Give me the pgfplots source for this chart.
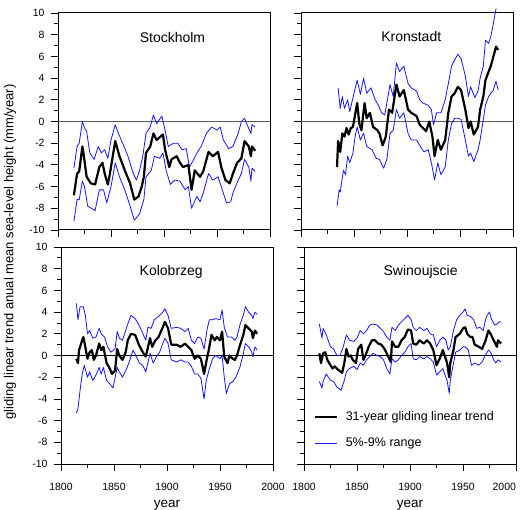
\documentclass[border=0pt]{standalone}
\usepackage{pgfplots}
\pgfplotsset{compat=1.18}
\usepackage{fontspec}
\setmainfont{Liberation Sans}
\definecolor{rblue}{RGB}{20,20,255}
\definecolor{zgray}{RGB}{90,90,90}
\pgfplotsset{panel/.style={
  scale only axis, width=212pt, height=217pt,
  xmin=1800, xmax=2000, ymin=-10, ymax=10,
  xtick={1800,1850,...,2000}, ytick={-10,-8,...,10},
  minor x tick num=1, minor y tick num=1,
  tick align=outside, tick pos=left,
  major tick length=7pt, minor tick length=4pt,
  axis line style={line width=1pt},
  every tick/.style={black, line width=0.8pt},
  tick label style={font=\fontsize{10.5}{12}\selectfont},
  xticklabel style={yshift=-9pt},
  yticklabel style={xshift=-3pt},
  /pgf/number format/assume math mode=true,
  /pgf/number format/1000 sep={},
  xlabel style={font=\fontsize{13.5}{15}\selectfont, yshift=-2pt},
},
trend/.style={black, line width=2.2pt, line join=round},
rng/.style={rblue, line width=0.8pt, line join=round},
}
\begin{document}
\begin{tikzpicture}
\path[use as bounding box] (0pt,0pt) rectangle (524pt,-510pt);
% ---------------- Stockholm
\begin{axis}[panel, at={(58pt,-230pt)}, anchor=south west, xticklabels={}]
\addplot[zgray, line width=1pt, forget plot] coordinates {(1800,0) (2000,0)};
\addplot[rng] coordinates {(1815,-4.3) (1818,-2.3) (1820,-2.0) (1823,0.0) (1825,-0.6) (1827,-0.9) (1830,-2.9) (1834,-3.5) (1838,-2.3) (1841,-2.9) (1844,-2.6) (1847,-3.4) (1850,-1.7) (1854,-0.3) (1857,-1.1) (1861,-2.0) (1866,-3.2) (1871,-4.8) (1874,-5.4) (1877,-4.5) (1880,-3.2) (1883,-1.1) (1887,-0.5) (1890,0.6) (1893,-0.2) (1898,0.5) (1901,-0.8) (1904,-2.3) (1909,-2.0) (1913,-2.0) (1917,-2.6) (1921,-2.5) (1924,-4.2) (1928,-3.5) (1931,-2.9) (1935,-2.3) (1940,-1.1) (1945,-0.5) (1950,-0.8) (1953,-0.5) (1956,-1.7) (1961,-2.5) (1965,-2.3) (1970,-1.1) (1973,0.0) (1976,0.3) (1978,-0.2) (1982,-1.1) (1983,-0.3) (1986,-0.5)};
\addplot[rng] coordinates {(1815,-9.2) (1818,-7.2) (1820,-7.2) (1823,-5.5) (1825,-6.0) (1828,-7.8) (1835,-8.2) (1839,-6.3) (1843,-6.3) (1846,-7.5) (1850,-6.0) (1854,-3.8) (1858,-5.1) (1863,-6.3) (1868,-7.8) (1872,-9.1) (1877,-8.5) (1881,-7.2) (1883,-5.1) (1888,-4.5) (1891,-3.2) (1896,-3.4) (1899,-2.9) (1902,-4.5) (1906,-5.8) (1910,-5.4) (1915,-5.5) (1920,-6.3) (1923,-6.0) (1926,-8.0) (1931,-6.9) (1934,-7.4) (1937,-6.6) (1942,-4.8) (1946,-5.4) (1951,-5.1) (1956,-6.6) (1959,-7.5) (1963,-7.4) (1965,-6.6) (1970,-5.4) (1973,-4.8) (1976,-3.5) (1980,-4.2) (1982,-5.5) (1983,-4.3) (1986,-4.6)};
\addplot[trend] coordinates {(1815,-6.8) (1818,-4.8) (1820,-4.6) (1823,-2.3) (1824,-2.9) (1827,-5.1) (1831,-5.7) (1835,-5.8) (1839,-4.2) (1842,-3.8) (1844,-4.8) (1847,-5.8) (1849,-4.8) (1854,-1.8) (1858,-3.2) (1863,-4.5) (1868,-5.7) (1872,-7.2) (1876,-6.9) (1879,-6.0) (1881,-5.1) (1883,-2.9) (1887,-2.3) (1890,-1.1) (1893,-1.7) (1899,-1.2) (1901,-2.6) (1905,-4.2) (1907,-3.5) (1912,-3.2) (1915,-3.8) (1918,-4.2) (1923,-4.0) (1926,-6.3) (1929,-4.5) (1934,-5.1) (1937,-4.6) (1942,-2.8) (1946,-3.2) (1951,-2.8) (1954,-4.2) (1958,-5.4) (1962,-5.7) (1965,-4.8) (1969,-3.8) (1973,-3.4) (1976,-1.8) (1980,-2.3) (1982,-3.2) (1983,-2.3) (1986,-2.7)};
\node[font=\fontsize{14}{16}\selectfont] at (rel axis cs:0.54,0.885) {Stockholm};
\end{axis}
% ---------------- Kronstadt
\begin{axis}[panel, at={(301pt,-230pt)}, anchor=south west, xticklabels={}, yticklabels={}, clip=false]
\addplot[zgray, line width=1pt, forget plot] coordinates {(1800,0) (2000,0)};
\addplot[rng] coordinates {(1835,3.1) (1837,1.2) (1839,2.3) (1841,1.2) (1844,2.0) (1846,0.9) (1849,2.2) (1853,3.8) (1856,2.5) (1859,4.0) (1862,2.6) (1866,3.1) (1870,2.0) (1873,1.5) (1876,0.8) (1879,0.6) (1884,3.4) (1887,2.3) (1890,5.4) (1893,4.6) (1897,5.1) (1901,3.5) (1904,3.1) (1909,2.8) (1912,2.0) (1915,1.7) (1920,1.5) (1923,1.1) (1925,-0.3) (1928,0.8) (1932,0.8) (1936,2.0) (1939,3.5) (1942,5.1) (1945,5.7) (1948,6.2) (1951,5.8) (1955,4.2) (1958,2.3) (1960,3.2) (1964,2.2) (1967,2.8) (1969,4.0) (1972,5.1) (1974,7.5) (1977,7.2) (1979,7.8) (1981,8.8) (1984,10.4)};
\addplot[rng] coordinates {(1834,-7.8) (1836,-6.3) (1837,-6.5) (1840,-4.5) (1842,-4.9) (1844,-3.2) (1846,-3.8) (1849,-2.9) (1851,-1.4) (1853,-0.5) (1856,-1.7) (1859,-1.1) (1862,-2.3) (1867,-2.6) (1871,-3.4) (1874,-3.5) (1878,-4.3) (1881,-3.5) (1884,-1.1) (1887,-0.8) (1890,1.1) (1893,0.3) (1897,0.8) (1901,-1.1) (1904,-1.7) (1909,-1.7) (1912,-2.2) (1916,-2.8) (1920,-2.6) (1923,-3.8) (1926,-5.4) (1929,-3.8) (1932,-4.9) (1936,-4.2) (1939,-1.7) (1942,-0.2) (1945,0.3) (1948,0.3) (1951,0.2) (1955,-1.7) (1958,-3.2) (1960,-2.9) (1963,-3.7) (1967,-2.6) (1969,-1.7) (1972,0.2) (1974,1.5) (1977,2.3) (1979,2.6) (1981,2.8) (1984,3.7) (1986,2.9)};
\addplot[trend] coordinates {(1834,-4.2) (1835,-1.8) (1837,-2.8) (1839,-1.1) (1841,-1.4) (1843,-0.6) (1845,-1.2) (1847,-0.6) (1849,-0.5) (1853,1.7) (1855,-0.2) (1857,-0.8) (1860,1.7) (1862,0.3) (1865,0.8) (1868,-0.5) (1872,-0.8) (1874,-1.1) (1877,-2.2) (1880,-1.4) (1883,1.1) (1886,0.8) (1890,3.4) (1893,2.3) (1897,2.9) (1901,1.1) (1904,0.8) (1909,0.5) (1912,-0.3) (1915,-0.6) (1918,-0.9) (1921,0.0) (1924,-1.4) (1926,-3.2) (1929,-1.7) (1932,-2.6) (1936,-1.7) (1939,0.8) (1942,2.3) (1945,2.6) (1948,3.2) (1951,2.9) (1955,1.1) (1958,-0.6) (1960,0.0) (1963,-1.2) (1967,-0.5) (1969,1.1) (1972,2.3) (1974,3.8) (1977,4.6) (1979,5.1) (1981,5.8) (1984,6.9) (1986,6.6)};
\node[font=\fontsize{14}{16}\selectfont] at (rel axis cs:0.52,0.89) {Kronstadt};
\end{axis}
% ---------------- Kolobrzeg
\begin{axis}[panel, at={(61pt,-464pt)}, anchor=south west, xlabel={year}]
\addplot[black, line width=1pt, forget plot] coordinates {(1800,0) (2000,0)};
\addplot[rng] coordinates {(1814.5,4.8) (1816,3.3) (1818,4.5) (1821,4.5) (1823,3.7) (1825,2.0) (1827,2.3) (1830,1.6) (1833,1.7) (1836,2.5) (1838,2.0) (1841,1.7) (1844,0.8) (1847,0.3) (1851,0.6) (1853,2.2) (1855,1.6) (1858,1.4) (1861,2.3) (1863,2.9) (1866,3.7) (1870,3.4) (1873,2.9) (1876,2.3) (1880,1.4) (1882,2.6) (1885,2.5) (1888,3.3) (1892,3.6) (1896,4.0) (1898,4.3) (1901,3.7) (1904,2.5) (1909,2.6) (1913,2.5) (1917,2.2) (1920,2.5) (1923,1.4) (1926,1.1) (1929,1.7) (1932,1.6) (1935,0.6) (1938,2.5) (1940,3.3) (1943,3.3) (1946,3.4) (1950,3.3) (1952,4.2) (1954,2.6) (1957,1.7) (1961,1.7) (1964,1.4) (1966,1.7) (1969,2.9) (1972,3.7) (1974,4.5) (1977,4.0) (1980,3.7) (1981,3.4) (1983,4.0) (1985,3.8)};
\addplot[rng] coordinates {(1814.5,-5.3) (1816,-4.9) (1818,-3.2) (1820,-1.7) (1822,-0.9) (1825,-2.0) (1827,-1.5) (1830,-2.3) (1833,-1.8) (1836,-1.1) (1838,-1.7) (1840,-1.1) (1843,-2.3) (1846,-2.6) (1849,-3.0) (1853,-1.1) (1855,-1.5) (1858,-2.0) (1862,-1.2) (1865,-0.4) (1868,0.5) (1871,-0.1) (1874,-0.7) (1877,-0.9) (1880,-1.5) (1884,0.2) (1887,-0.7) (1890,-0.1) (1893,0.3) (1898,1.6) (1901,1.1) (1904,-0.4) (1909,-0.6) (1913,-0.4) (1917,-0.6) (1920,-0.6) (1923,-1.0) (1926,-1.7) (1929,-1.7) (1932,-2.1) (1935,-4.0) (1937,-2.3) (1940,-1.2) (1943,-0.3) (1946,0.0) (1950,-0.3) (1952,0.0) (1954,-2.0) (1956,-3.5) (1959,-2.6) (1962,-2.4) (1965,-2.0) (1969,-1.0) (1972,0.2) (1974,1.1) (1977,0.8) (1980,0.3) (1981,-0.1) (1983,0.8) (1985,0.5)};
\addplot[trend] coordinates {(1814.5,-0.3) (1816,-0.7) (1817,0.5) (1821,1.7) (1822,1.3) (1825,-0.3) (1827,0.3) (1829,0.5) (1831,-0.4) (1833,0.0) (1836,1.1) (1838,0.5) (1840,0.8) (1843,-0.7) (1846,-1.2) (1848,-1.7) (1851,-1.4) (1853,0.6) (1855,0.0) (1858,-0.4) (1861,0.3) (1863,1.4) (1866,2.0) (1870,1.9) (1873,1.1) (1876,0.5) (1879,0.0) (1880,-0.1) (1884,1.6) (1886,0.8) (1889,1.4) (1892,1.7) (1896,2.6) (1898,3.1) (1901,2.5) (1904,1.0) (1909,1.0) (1913,0.8) (1917,1.1) (1920,0.8) (1923,0.5) (1926,-0.3) (1929,0.0) (1932,-0.3) (1935,-1.7) (1937,-0.6) (1939,0.3) (1942,1.9) (1945,1.4) (1947,1.7) (1950,1.4) (1952,2.2) (1954,-0.1) (1957,-0.7) (1959,0.0) (1962,-0.3) (1964,-0.4) (1966,0.0) (1969,1.0) (1972,1.9) (1974,2.8) (1977,2.5) (1980,2.2) (1981,1.6) (1983,2.3) (1985,2.0)};
\node[font=\fontsize{14}{16}\selectfont] at (rel axis cs:0.52,0.885) {Kolobrzeg};
\end{axis}
% ---------------- Swinoujscie
\begin{axis}[panel, at={(304pt,-464pt)}, anchor=south west, yticklabels={}, xlabel={year},
  xticklabels={1800,1850,1900,1950,\makebox[0pt][r]{2000}},
  legend style={at={(rel axis cs:0.03,0.262)}, anchor=north west, draw=none, fill=none,
    font=\fontsize{12.5}{14}\selectfont, row sep=12pt, cells={anchor=west}},
  legend image code/.code={\draw[#1] (0pt,0pt) -- (22pt,0pt); \path (28pt,0pt);}]
\addplot[black, line width=1pt, forget plot] coordinates {(1800,0) (2000,0)};
\addplot[rng, forget plot] coordinates {(1814.5,2.9) (1817,1.6) (1818,2.5) (1821,1.9) (1825,0.8) (1828,0.6) (1831,0.0) (1834,0.0) (1837,0.8) (1840,1.9) (1843,1.4) (1847,1.3) (1850,1.6) (1853,2.3) (1856,2.0) (1859,2.3) (1862,2.8) (1865,2.9) (1869,2.8) (1872,2.5) (1875,2.2) (1878,1.7) (1881,1.4) (1883,2.6) (1886,2.3) (1889,2.8) (1892,3.1) (1895,3.4) (1898,3.7) (1901,3.3) (1903,2.6) (1906,2.3) (1909,2.6) (1913,2.3) (1916,2.5) (1919,2.0) (1922,1.9) (1925,0.8) (1928,1.4) (1931,1.7) (1934,1.4) (1936,0.5) (1938,0.8) (1941,2.3) (1944,3.3) (1947,3.7) (1950,4.0) (1952,4.3) (1954,3.7) (1957,3.6) (1960,3.3) (1963,2.5) (1966,2.6) (1969,2.3) (1972,3.6) (1975,4.0) (1977,3.3) (1980,2.8) (1982,2.9) (1984,3.1) (1986,3.1)};
\addplot[trend] coordinates {(1814.5,0.2) (1816,-0.7) (1818,0.2) (1820,0.3) (1822,-0.4) (1825,-0.9) (1827,-1.2) (1829,-1.0) (1832,-1.3) (1836,-1.6) (1838,-0.7) (1840,0.6) (1842,-0.1) (1844,0.0) (1846,-0.4) (1849,-0.7) (1851,0.6) (1854,1.0) (1856,-0.4) (1858,0.0) (1861,0.8) (1864,1.4) (1867,1.4) (1870,1.1) (1873,1.0) (1876,0.6) (1879,0.0) (1882,-0.6) (1883,1.3) (1886,0.8) (1889,0.8) (1892,1.4) (1895,1.7) (1898,2.4) (1901,2.3) (1903,1.1) (1906,1.0) (1909,1.4) (1913,1.1) (1916,1.4) (1919,1.1) (1922,0.5) (1925,-0.9) (1928,-0.3) (1931,0.5) (1933,-0.1) (1935,-0.7) (1937,-2.0) (1938,-0.7) (1941,0.5) (1943,1.7) (1947,2.0) (1950,2.5) (1952,2.6) (1954,2.0) (1957,1.7) (1959,1.7) (1961,1.0) (1965,0.8) (1968,0.6) (1971,1.3) (1974,2.3) (1976,2.0) (1979,1.4) (1982,0.8) (1983,1.4) (1986,1.1)};
\addlegendentry{31-year gliding linear trend}
\addplot[rng] coordinates {(1814.5,-2.4) (1817,-3.0) (1818,-2.4) (1821,-1.7) (1825,-2.3) (1828,-2.4) (1831,-2.9) (1835,-3.2) (1838,-2.3) (1840,-1.5) (1843,-1.2) (1847,-1.0) (1850,-1.3) (1853,-0.7) (1856,-0.9) (1859,-0.4) (1862,-0.1) (1865,0.2) (1869,0.0) (1872,-0.1) (1875,-0.4) (1878,-1.2) (1881,-1.7) (1883,-0.3) (1886,-0.6) (1889,-0.4) (1892,0.0) (1895,0.3) (1898,0.8) (1901,1.1) (1903,-0.3) (1906,-0.4) (1909,-0.1) (1913,-0.3) (1916,-0.1) (1919,-0.3) (1922,-0.6) (1925,-1.8) (1928,-1.5) (1931,-1.2) (1933,-1.8) (1935,-2.3) (1937,-3.5) (1938,-2.3) (1941,-0.7) (1943,0.3) (1947,0.5) (1950,0.8) (1952,0.8) (1955,0.5) (1958,-0.9) (1961,-0.7) (1965,-0.9) (1968,-0.6) (1971,0.0) (1974,0.5) (1976,0.3) (1979,-0.4) (1981,-0.7) (1983,-0.4) (1986,-0.6)};
\addlegendentry{5\%-9\% range}
\node[font=\fontsize{14}{16}\selectfont] at (rel axis cs:0.55,0.885) {Swinoujscie};
\end{axis}
\node[rotate=90, font=\fontsize{13}{15}\selectfont] at (10pt,-252pt) {gliding linear trend anual mean sea-level height (mm/year)};
\end{tikzpicture}
\end{document}
